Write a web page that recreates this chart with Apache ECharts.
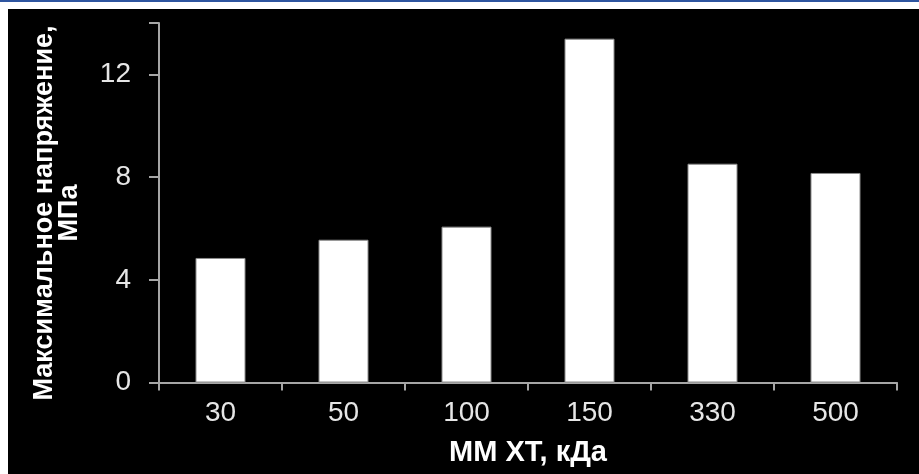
<!DOCTYPE html>
<html>
<head>
<meta charset="utf-8">
<script src="https://cdn.jsdelivr.net/npm/echarts@6/dist/echarts.min.js"></script>
<style>
html,body{margin:0;padding:0;background:#fff;}
#chart{width:919px;height:474px;}
</style>
</head>
<body>
<div id="chart"></div>
<script>
const categories = ['30', '50', '100', '150', '330', '500'];
const values = [4.85, 5.56, 6.07, 13.39, 8.52, 8.16];
const yTicks = [0, 4, 8, 12];
const yAxisTitle = 'Максимальное напряжение,\nМПа';
const xAxisTitle = 'ММ ХТ, кДа';

const chart = echarts.init(document.getElementById('chart'), null, {renderer: 'canvas'});
const font = '"Liberation Sans", Arial, sans-serif';
chart.setOption({
  backgroundColor: '#ffffff',
  animation: false,
  graphic: [
    {type: 'rect', left: 0, top: 0, shape: {width: 919, height: 2}, style: {fill: '#2e55a0'}, z: -10},
    {type: 'rect', left: 8, top: 9, shape: {width: 911, height: 465}, style: {fill: '#000000'}, z: -10},
    {type: 'text', x: 57, y: 213, rotation: Math.PI / 2,
     style: {text: yAxisTitle, fill: '#ffffff', font: 'bold 27px ' + font, align: 'center', verticalAlign: 'middle', lineHeight: 25}, z: 10}
  ],
  grid: {left: 159, right: 22, top: 23, bottom: 91.5, containLabel: false, outerBoundsMode: 'none'},
  xAxis: {
    type: 'category',
    data: categories,
    name: xAxisTitle,
    nameLocation: 'middle',
    nameGap: 56,
    nameTextStyle: {color: '#ffffff', fontFamily: font, fontSize: 29, fontWeight: 'bold'},
    axisLine: {lineStyle: {color: '#a6a6a6', width: 2}},
    axisTick: {show: true, length: 8, lineStyle: {color: '#a6a6a6', width: 2}},
    axisLabel: {color: '#e6e6e6', fontFamily: font, fontSize: 28, margin: 17}
  },
  yAxis: {
    type: 'value',
    min: 0, max: 14, interval: 4,
    axisLine: {show: true, lineStyle: {color: '#a6a6a6', width: 2}},
    axisTick: {show: true, length: 10, lineStyle: {color: '#a6a6a6', width: 2}},
    splitLine: {show: false},
    axisLabel: {color: '#e6e6e6', fontFamily: font, fontSize: 28, margin: 28,
      formatter: v => yTicks.includes(v) ? String(v) : ''}
  },
  series: [{
    type: 'bar',
    data: values,
    barWidth: 50,
    itemStyle: {color: '#ffffff', borderColor: '#8c8c8c', borderWidth: 1}
  }]
});
</script>
</body>
</html>
